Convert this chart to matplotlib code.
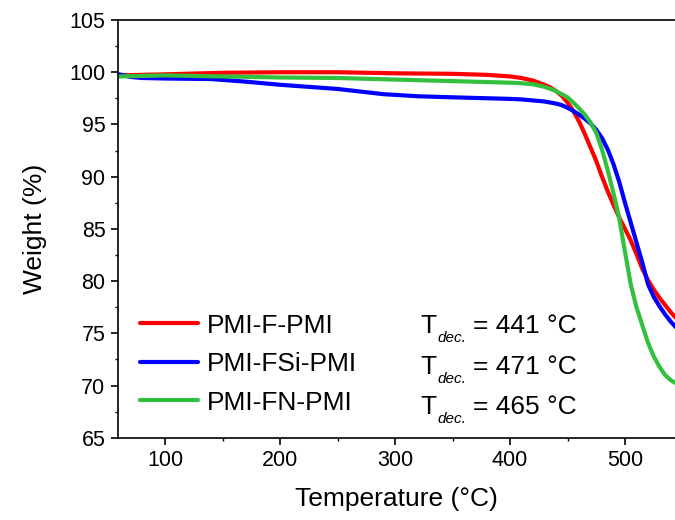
import numpy as np
import matplotlib
matplotlib.use('Agg')
import matplotlib.pyplot as plt
from matplotlib.ticker import MultipleLocator

plt.rcParams['font.family'] = ['Liberation Sans', 'DejaVu Sans']

# === данные ===
t_f = [60, 80, 100, 150, 200, 250, 300, 350, 380, 400, 410, 420, 425, 430, 435, 440, 445,
       450, 455, 460, 465, 470, 475, 480, 485, 490, 495, 500, 505, 510, 515, 520, 525, 530,
       535, 540, 545]
w_f = [99.7, 99.75, 99.8, 99.95, 100.0, 100.0, 99.9, 99.85, 99.75, 99.6, 99.45, 99.2, 99.0,
       98.8, 98.55, 98.2, 97.75, 97.1, 96.3, 95.3, 94.1, 92.8, 91.5, 90.0, 88.6, 87.3, 86.1,
       85.0, 83.9, 82.6, 81.2, 80.1, 79.2, 78.4, 77.7, 77.0, 76.4]

t_fsi = [60, 70, 80, 100, 140, 170, 200, 250, 290, 320, 350, 400, 410, 420, 430, 440, 445,
         450, 455, 460, 465, 470, 475, 480, 485, 490, 495, 500, 505, 510, 515, 520, 525, 530,
         535, 540, 545]
w_fsi = [99.8, 99.55, 99.45, 99.4, 99.35, 99.1, 98.8, 98.4, 97.9, 97.7, 97.6, 97.45, 97.4,
         97.3, 97.2, 97.0, 96.85, 96.6, 96.3, 95.95, 95.55, 95.1, 94.5, 93.7, 92.6, 91.2, 89.5,
         87.5, 85.6, 83.7, 81.8, 79.7, 78.5, 77.6, 76.8, 76.1, 75.5]

t_fn = [60, 100, 150, 200, 250, 300, 350, 400, 410, 420, 430, 438, 445, 450, 455, 460, 465,
        470, 475, 480, 485, 490, 495, 500, 505, 510, 515, 520, 525, 530, 535, 540, 545]
w_fn = [99.6, 99.7, 99.6, 99.5, 99.45, 99.3, 99.15, 99.0, 98.95, 98.85, 98.6, 98.3, 97.9,
        97.6, 97.1, 96.55, 95.95, 95.2, 94.2, 92.6, 90.6, 88.4, 86.0, 82.8, 79.7, 77.5, 75.8,
        74.1, 72.8, 71.8, 71.0, 70.5, 70.2]

labels = ['PMI-F-PMI', 'PMI-FSi-PMI', 'PMI-FN-PMI']
t_dec = [441, 471, 465]
colors = ['#ff0000', '#0000ff', '#33c03f']

fig = plt.figure(figsize=(6.75, 5.2), dpi=100)
ax = fig.add_axes([0.1748, 0.158, 0.8252, 0.8035])

series = [(t_f, w_f), (t_fsi, w_fsi), (t_fn, w_fn)]
for (t, w), lab, c in zip(series, labels, colors):
    ax.plot(t, w, color=c, lw=3, label=lab, solid_capstyle='round', solid_joinstyle='round')

ax.set_xlim(59, 543.5)
ax.set_ylim(65, 105)
ax.xaxis.set_major_locator(MultipleLocator(100))
ax.xaxis.set_minor_locator(MultipleLocator(50))
ax.yaxis.set_major_locator(MultipleLocator(5))
ax.yaxis.set_minor_locator(MultipleLocator(2.5))
ax.tick_params(which='major', direction='out', length=5, width=1.2, labelsize=15.5, pad=4)
ax.tick_params(which='minor', direction='out', length=2.5, width=1)
ax.spines['right'].set_visible(False)
for s in ['left', 'bottom', 'top']:
    ax.spines[s].set_linewidth(1.2)

ax.set_xlabel('Temperature (°C)', fontsize=19, labelpad=11)
ax.set_ylabel('Weight (%)', fontsize=19, labelpad=16)

leg = ax.legend(loc='center left', bbox_to_anchor=(0.0395, 0.1764), frameon=False, fontsize=19,
                handlelength=2.2, handletextpad=0.34, labelspacing=0.55, borderpad=0,
                borderaxespad=0)
for line in leg.get_lines():
    line.set_linewidth(3)

# подписи T_dec: T, индекс dec. курсивом, потом значение
ys = [0.2506, 0.1524, 0.0567]
for y, td in zip(ys, t_dec):
    ax.text(0.542, y, 'T', transform=ax.transAxes, fontsize=19, va='baseline', ha='left')
    ax.text(0.5727, y - 0.0215, 'dec.', transform=ax.transAxes, fontsize=11,
            style='italic', va='baseline', ha='left')
    ax.text(0.6373, y, '= %d °C' % td, transform=ax.transAxes, fontsize=19,
            va='baseline', ha='left')

fig.savefig('out.png', dpi=100)
